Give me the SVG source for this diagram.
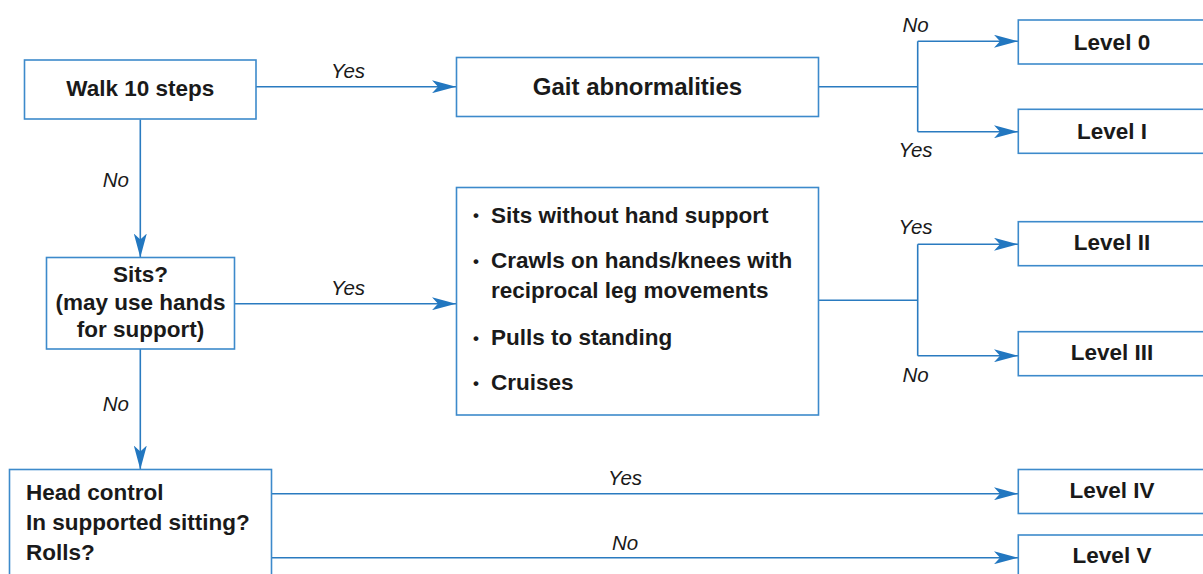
<svg xmlns="http://www.w3.org/2000/svg" width="1203" height="574" viewBox="0 0 1203 574">
<style>
.box{fill:#fff;stroke:#3d8acb;stroke-width:1.6}
.ln{fill:none;stroke:#2a7bc0;stroke-width:1.6}
.t{font-family:"Liberation Sans",Arial,sans-serif;font-weight:bold;font-size:22.5px;fill:#1a1a1a}
.b{font-family:"Liberation Sans",Arial,sans-serif;font-weight:bold;font-size:17px;fill:#1a1a1a}
.c{text-anchor:middle}
.lb{font-family:"Liberation Sans",Arial,sans-serif;font-style:italic;font-size:20.5px;fill:#1a1a1a}
</style>
<defs>
<marker id="arr" viewBox="0 0 24 13" refX="24" refY="6.5" markerWidth="24" markerHeight="13" markerUnits="userSpaceOnUse" orient="auto">
<path d="M0,0 L24,6.5 L0,13 L6,6.5 Z" fill="#2277c0"/>
</marker>
</defs>
<rect width="1203" height="574" fill="#fff"/>
<g id="connectors">
<line class="ln" x1="256" y1="86.7" x2="456" y2="86.7" marker-end="url(#arr)"/>
<text class="lb c" x="348" y="77.5">Yes</text>
<line class="ln" x1="140.3" y1="119.5" x2="140.3" y2="257.5" marker-end="url(#arr)"/>
<text class="lb" x="129" y="187" text-anchor="end">No</text>
<line class="ln" x1="235" y1="303.7" x2="456" y2="303.7" marker-end="url(#arr)"/>
<text class="lb c" x="348" y="295">Yes</text>
<line class="ln" x1="140.3" y1="349" x2="140.3" y2="469.5" marker-end="url(#arr)"/>
<text class="lb" x="129" y="411" text-anchor="end">No</text>
<polyline class="ln" points="818.5,86.7 917.7,86.7"/>
<polyline class="ln" points="917.7,41.3 917.7,131.7"/>
<line class="ln" x1="917.7" y1="41.3" x2="1018" y2="41.3" marker-end="url(#arr)"/>
<line class="ln" x1="917.7" y1="131.7" x2="1018" y2="131.7" marker-end="url(#arr)"/>
<text class="lb c" x="915.5" y="31.7">No</text>
<text class="lb c" x="915.5" y="157">Yes</text>
<polyline class="ln" points="818.5,300.3 917.7,300.3"/>
<polyline class="ln" points="917.7,244.3 917.7,355.7"/>
<line class="ln" x1="917.7" y1="244.3" x2="1018" y2="244.3" marker-end="url(#arr)"/>
<line class="ln" x1="917.7" y1="355.7" x2="1018" y2="355.7" marker-end="url(#arr)"/>
<text class="lb c" x="915.5" y="233.5">Yes</text>
<text class="lb c" x="915.5" y="382">No</text>
<line class="ln" x1="271.7" y1="493.7" x2="1018" y2="493.7" marker-end="url(#arr)"/>
<text class="lb c" x="625" y="485">Yes</text>
<line class="ln" x1="271.7" y1="557.7" x2="1018" y2="557.7" marker-end="url(#arr)"/>
<text class="lb c" x="625" y="550">No</text>
</g>
<g id="walk">
<rect class="box" x="24.5" y="60" width="231.5" height="59"/>
<text class="t c" x="140.3" y="96">Walk 10 steps</text>
</g>
<g id="gait">
<rect class="box" x="456.5" y="57.5" width="362" height="59"/>
<text class="t c" x="637.5" y="94.5" style="font-size:24px">Gait abnormalities</text>
</g>
<g id="sits">
<rect class="box" x="46.5" y="257.5" width="188" height="91.5"/>
<text class="t c" x="140.5" y="282">Sits?</text>
<text class="t c" x="140.5" y="309.5">(may use hands</text>
<text class="t c" x="140.5" y="337">for support)</text>
</g>
<g id="list">
<rect class="box" x="456.5" y="187.5" width="362" height="227.5"/>
<text class="b" x="473" y="221">•</text>
<text class="t" x="491" y="222.5">Sits without hand support</text>
<text class="b" x="473" y="267">•</text>
<text class="t" x="491" y="268.3">Crawls on hands/knees with</text>
<text class="t" x="491" y="298.3">reciprocal leg movements</text>
<text class="b" x="473" y="343.5">•</text>
<text class="t" x="491" y="345">Pulls to standing</text>
<text class="b" x="473" y="388.5">•</text>
<text class="t" x="491" y="390">Cruises</text>
</g>
<g id="head">
<rect class="box" x="9.5" y="469.5" width="262" height="120"/>
<text class="t" x="26" y="500">Head control</text>
<text class="t" x="26" y="530">In supported sitting?</text>
<text class="t" x="26" y="559.5">Rolls?</text>
</g>
<g id="level0">
<rect class="box" x="1018.3" y="20" width="190" height="44"/>
<text class="t c" x="1112" y="49.5">Level 0</text>
</g>
<g id="level1">
<rect class="box" x="1018.3" y="109.3" width="190" height="44"/>
<text class="t c" x="1112" y="138.5">Level I</text>
</g>
<g id="level2">
<rect class="box" x="1018.3" y="221.7" width="190" height="44"/>
<text class="t c" x="1112" y="250">Level II</text>
</g>
<g id="level3">
<rect class="box" x="1018.3" y="331.7" width="190" height="44"/>
<text class="t c" x="1112" y="360">Level III</text>
</g>
<g id="level4">
<rect class="box" x="1018.3" y="469.5" width="190" height="44"/>
<text class="t c" x="1112" y="497.7">Level IV</text>
</g>
<g id="level5">
<rect class="box" x="1018.3" y="535" width="190" height="44"/>
<text class="t c" x="1112" y="562.7">Level V</text>
</g>
</svg>
